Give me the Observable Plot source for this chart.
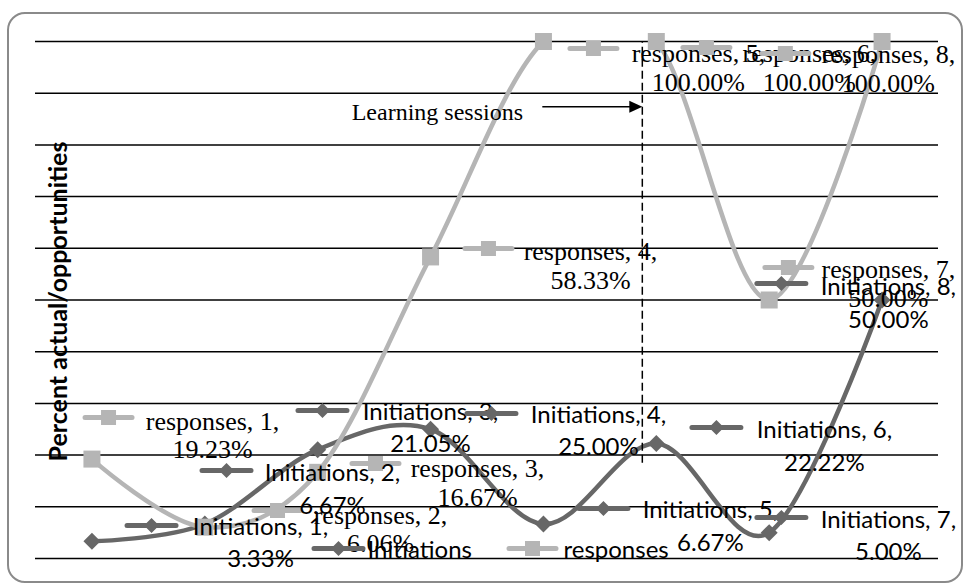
<!DOCTYPE html>
<html>
<head>
<meta charset="utf-8">
<script src="https://cdn.jsdelivr.net/npm/d3@7"></script>
<script src="https://cdn.jsdelivr.net/npm/@observablehq/plot@0.6"></script>
<style>
  html, body { margin: 0; padding: 0; background: #fff; }
  #wrap { position: relative; width: 965px; height: 585px; overflow: hidden; }
  #frame { position: absolute; left: 7px; top: 12px; width: 956px; height: 571px;
           box-sizing: border-box; border: 2px solid #8a8a8a; border-radius: 18px; pointer-events: none; }
</style>
</head>
<body>
<div id="wrap"><div id="chart"></div><div id="frame"></div></div>
<script>
// ---- data ----
const categories = [1, 2, 3, 4, 5, 6, 7, 8];
const initiations = [3.33, 6.67, 21.05, 25.00, 6.67, 22.22, 5.00, 50.00];
const responses = [19.23, 6.06, 16.67, 58.33, 100.00, 100.00, 50.00, 100.00];
const yTicks = [0, 10, 20, 30, 40, 50, 60, 70, 80, 90, 100];
const seriesNames = ["Initiations", "responses"];
const yTitle = "Percent actual/opportunities";
const annotationText = "Learning sessions";
const sessionBoundary = [5.876];      // category position of the dashed divider
const sessionLineRange = [18.4, 100]; // vertical extent of divider (percent)
const arrowFrom = [4.99, 87.4];       // [category, percent]
const arrowTo = [5.876, 87.4];
const annotationAt = [4.06, 84.9];

// ---- layout (label offsets in px: textDx, textDy, keyDx, keyDy) ----
const responsesLabelOffsets = [
  [120.6, -0.6, 16.6, -41.6], [175.7, 25.3, 72.7, -16.7], [159.8, 33.2, 57.8, -8.8], [159.9, 31.6, 57.9, -8.4],
  [155, 49, 50, 7], [153.1, 49, 50.1, 6], [119.2, 6.5, 19.2, -32.5], [6.3, 50, -96.7, 12]
];
const initiationsLabelOffsets = [
  [168.6, 26.2, 59.6, -15.8], [127.7, -10.5, 21.7, -53.5], [112.8, 2.8, 4.8, -39.2], [167.9, 26.2, 60.9, -15.8],
  [167, 26.5, 60, -15.5], [168.1, 26.9, 60.1, -16.1], [119.2, 27.8, 12.2, -15.2], [6.3, 27.5, -100.7, -16.5]
];

const darkGray = "#676767";
const lightGray = "#b5b5b5";
const sansFont = "Lato, 'Open Sans', sans-serif";
const serifFont = "'Liberation Serif', 'DejaVu Serif', serif";

// ---- custom symbols ----
function roundedBar(ctx, half, t) {
  const r = t / 2;
  ctx.moveTo(-half + r, -r);
  ctx.lineTo(half - r, -r);
  ctx.arc(half - r, 0, r, -Math.PI / 2, Math.PI / 2);
  ctx.lineTo(-half + r, r);
  ctx.arc(-half + r, 0, r, Math.PI / 2, 3 * Math.PI / 2);
  ctx.closePath();
}
const markerSquare = { draw(ctx) { ctx.rect(-8.5, -8.5, 17, 17); } };
const markerDiamond = { draw(ctx) { ctx.moveTo(0, -8.5); ctx.lineTo(8.5, 0); ctx.lineTo(0, 8.5); ctx.lineTo(-8.5, 0); ctx.closePath(); } };
const keySquare = { draw(ctx) { roundedBar(ctx, 26, 5); ctx.rect(-7.5, -7.5, 15, 15); } };
const keyDiamond = { draw(ctx) { roundedBar(ctx, 27, 5); ctx.moveTo(0, -7.5); ctx.lineTo(7.5, 0); ctx.lineTo(0, 7.5); ctx.lineTo(-7.5, 0); ctx.closePath(); } };
const arrowHead = { draw(ctx) { ctx.moveTo(0, 0); ctx.lineTo(-13, -6); ctx.lineTo(-13, 6); ctx.closePath(); } };

// ---- tables ----
const initData = categories.map((c, i) => ({cat: c, value: initiations[i], series: seriesNames[0]}));
const respData = categories.map((c, i) => ({cat: c, value: responses[i], series: seriesNames[1]}));
const fmt = d => `${d.series}, ${d.cat},\n${d.value.toFixed(2)}%`;

function labelMarks(data, offsets, key, color, font, size, lh) {
  const out = [];
  data.forEach((d, i) => {
    const [tdx, tdy, kdx, kdy] = offsets[i];
    out.push(Plot.dot([d], {x: "cat", y: "value", symbol: key, fill: color, stroke: "none", r: 5, dx: kdx, dy: kdy}));
    out.push(Plot.text([d], {x: "cat", y: "value", text: fmt, dx: tdx, dy: tdy, textAnchor: "middle",
      lineAnchor: "bottom", lineHeight: lh, fontFamily: font, fontSize: size, fill: "black"}));
  });
  return out;
}

const legendKeys = [keyDiamond, keySquare];
const legendColors = [darkGray, lightGray];
const legendKeyDx = [-148.5, 45.5];
const legendTextDx = [-119.5, 76.5];

const chart = Plot.plot({
  width: 965,
  height: 585,
  marginLeft: 35,
  marginRight: 27,
  marginTop: 41,
  marginBottom: 27,
  x: {domain: [0.5, 8.5], axis: null},
  y: {domain: [0, 100], axis: null},
  style: {background: "transparent", overflow: "visible"},
  marks: [
    Plot.ruleY(yTicks, {stroke: "black", strokeWidth: 1.5}),
    Plot.line(initData, {x: "cat", y: "value", stroke: darkGray, strokeWidth: 4.5, curve: "cardinal", clip: true}),
    Plot.dot(initData, {x: "cat", y: "value", symbol: markerDiamond, fill: darkGray, stroke: "none", r: 5}),
    Plot.line(respData, {x: "cat", y: "value", stroke: lightGray, strokeWidth: 4.5, curve: "cardinal", clip: true}),
    Plot.dot(respData, {x: "cat", y: "value", symbol: markerSquare, fill: lightGray, stroke: "none", r: 5}),
    ...labelMarks(respData, responsesLabelOffsets, keySquare, lightGray, serifFont, 26, 1.08),
    ...labelMarks(initData, initiationsLabelOffsets, keyDiamond, darkGray, sansFont, 24, 1.35),
    // divider and annotation
    Plot.ruleX(sessionBoundary, {x: d => d, y1: sessionLineRange[0], y2: sessionLineRange[1], stroke: "black", strokeWidth: 1.5, strokeDasharray: "8,4"}),
    Plot.link([0], {x1: () => arrowFrom[0], y1: () => arrowFrom[1], x2: () => arrowTo[0] - 0.05, y2: () => arrowTo[1], stroke: "black", strokeWidth: 1.5}),
    Plot.dot([arrowTo], {x: d => d[0], y: d => d[1], symbol: arrowHead, fill: "black", stroke: "none", r: 5}),
    Plot.text([annotationText], {x: () => annotationAt[0], y: () => annotationAt[1], text: d => d, textAnchor: "middle",
      lineAnchor: "bottom", fontFamily: serifFont, fontSize: 24, fill: "black"}),
    // legend
    ...seriesNames.map((s, i) => Plot.dot([s], {frameAnchor: "bottom", dx: legendKeyDx[i], dy: -10, symbol: legendKeys[i], fill: legendColors[i], stroke: "none", r: 5})),
    ...seriesNames.map((s, i) => Plot.text([s], {frameAnchor: "bottom", text: d => d, dx: legendTextDx[i], dy: -1, textAnchor: "start",
      lineAnchor: "bottom", fontFamily: sansFont, fontSize: 24, fill: "black"})),
    // y title
    Plot.text([yTitle], {frameAnchor: "left", text: d => d, dx: 23, dy: 1.5, rotate: -90, textAnchor: "middle",
      fontFamily: sansFont, fontWeight: "bold", fontSize: 25, fill: "black"})
  ]
});
document.getElementById("chart").appendChild(chart);
</script>
</body>
</html>
